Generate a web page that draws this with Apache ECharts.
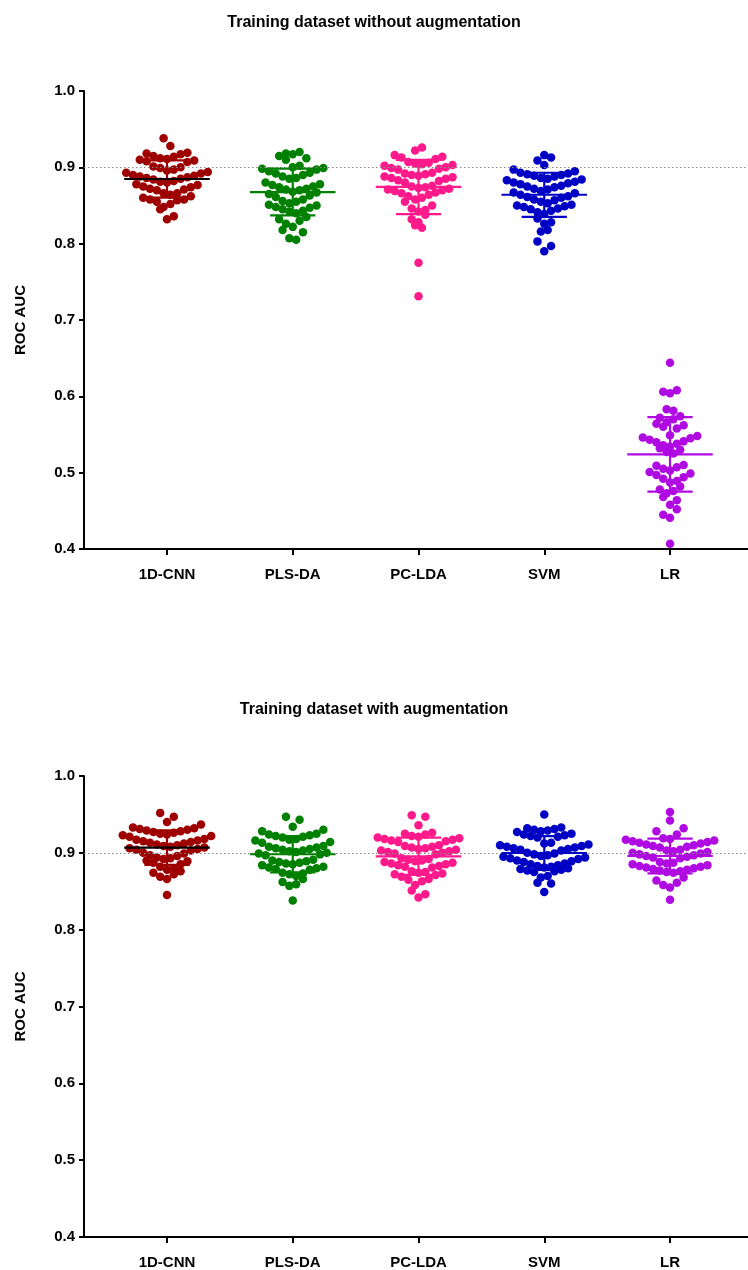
<!DOCTYPE html>
<html>
<head>
<meta charset="utf-8">
<script src="https://cdn.jsdelivr.net/npm/echarts@6/dist/echarts.min.js"></script>
<style>
  html, body { margin: 0; padding: 0; background: #fff; }
  #chart { width: 748px; height: 1270px; }
</style>
</head>
<body>
<div id="chart"></div>
<script>
// categories and colours
const categories = ['1D-CNN', 'PLS-DA', 'PC-LDA', 'SVM', 'LR'];
const groupColors = ['#9E0000', '#008000', '#FF1A8C', '#0000C4', '#B00AE2'];
const yTicks = [0.4, 0.5, 0.6, 0.7, 0.8, 0.9, 1.0];

// --- training dataset without augmentation (ROC AUC per run)
const cnnNoAug = [0.938, 0.928,
  0.919, 0.918, 0.917, 0.915, 0.914, 0.912, 0.911, 0.910, 0.909, 0.908, 0.907,
  0.901, 0.900, 0.899, 0.897, 0.896, 0.894, 0.893, 0.892, 0.890, 0.889, 0.888, 0.887,
  0.886, 0.885, 0.884, 0.882, 0.881, 0.880, 0.878, 0.877, 0.875, 0.874, 0.872, 0.871, 0.870,
  0.866, 0.866, 0.864, 0.862, 0.860, 0.858, 0.858, 0.857, 0.855, 0.852, 0.848, 0.845, 0.836, 0.832];
const plsNoAug = [0.920, 0.918, 0.917, 0.915, 0.912, 0.910,
  0.902, 0.900, 0.899, 0.898, 0.897, 0.895, 0.893, 0.892, 0.890, 0.888, 0.886, 0.885,
  0.880, 0.878, 0.877, 0.875, 0.874, 0.872, 0.871, 0.870, 0.868, 0.867, 0.865, 0.863, 0.861,
  0.858, 0.856, 0.855, 0.853, 0.851, 0.850, 0.848, 0.847, 0.845, 0.843, 0.842, 0.840,
  0.835, 0.832, 0.830, 0.826, 0.822, 0.818, 0.815, 0.807, 0.805];
const pcldaNoAug = [0.926, 0.922, 0.916, 0.914, 0.913, 0.911,
  0.907, 0.906, 0.905, 0.904, 0.903, 0.902, 0.900, 0.899, 0.898, 0.897,
  0.893, 0.892, 0.891, 0.890, 0.889, 0.888, 0.887, 0.886, 0.885, 0.883, 0.882, 0.880,
  0.876, 0.875, 0.874, 0.873, 0.872, 0.871, 0.870, 0.869, 0.867, 0.866, 0.864, 0.862, 0.860, 0.858,
  0.855, 0.850, 0.846, 0.844, 0.842, 0.838, 0.832, 0.828, 0.824, 0.821,
  0.775, 0.731];
const svmNoAug = [0.916, 0.913, 0.909, 0.903,
  0.897, 0.895, 0.893, 0.892, 0.891, 0.890, 0.889, 0.888, 0.886, 0.885, 0.884, 0.883,
  0.881, 0.880, 0.879, 0.878, 0.876, 0.875, 0.874, 0.872, 0.871, 0.869,
  0.867, 0.866, 0.864, 0.862, 0.861, 0.860, 0.858, 0.857, 0.855, 0.853,
  0.851, 0.850, 0.849, 0.848, 0.846, 0.845, 0.843, 0.841, 0.839,
  0.833, 0.828, 0.826, 0.818, 0.816, 0.803, 0.797, 0.790];
const lrNoAug = [0.644,
  0.608, 0.606, 0.604,
  0.583, 0.581,
  0.574, 0.572, 0.570, 0.566, 0.564, 0.562, 0.560, 0.558,
  0.549, 0.548, 0.546, 0.545, 0.543, 0.541, 0.540, 0.538, 0.536, 0.534, 0.532, 0.530, 0.527, 0.525,
  0.510, 0.509, 0.507, 0.505, 0.503, 0.501, 0.499, 0.497, 0.494, 0.492, 0.489, 0.487,
  0.482, 0.478, 0.476, 0.473, 0.468, 0.464, 0.458, 0.452, 0.445, 0.441, 0.407];

// --- training dataset with augmentation
const cnnAug = [0.952, 0.947, 0.940, 0.937,
  0.933, 0.932, 0.931, 0.930, 0.929, 0.928, 0.927, 0.926, 0.925, 0.924, 0.923, 0.922, 0.921,
  0.918, 0.917, 0.916, 0.915, 0.914, 0.913, 0.912, 0.911, 0.910, 0.909, 0.908, 0.907, 0.906, 0.905, 0.904, 0.903,
  0.900, 0.899, 0.897, 0.896, 0.894, 0.893, 0.892, 0.890, 0.889, 0.887, 0.885,
  0.882, 0.880, 0.878, 0.876, 0.874, 0.872, 0.869, 0.866, 0.845];
const plsAug = [0.947, 0.943, 0.934, 0.930, 0.928,
  0.925, 0.924, 0.923, 0.922, 0.921, 0.920, 0.918, 0.917, 0.916, 0.914, 0.913,
  0.909, 0.908, 0.907, 0.906, 0.905, 0.904, 0.903, 0.902, 0.901, 0.900, 0.899, 0.898, 0.897,
  0.891, 0.890, 0.889, 0.888, 0.887, 0.886, 0.885, 0.884, 0.882, 0.881, 0.880, 0.879, 0.878,
  0.874, 0.873, 0.872, 0.870, 0.866, 0.862, 0.859, 0.857, 0.838];
const pcldaAug = [0.949, 0.947, 0.936,
  0.926, 0.925, 0.924, 0.922, 0.921, 0.920, 0.919, 0.918, 0.917, 0.916, 0.915, 0.914,
  0.910, 0.909, 0.908, 0.907, 0.906, 0.905, 0.904, 0.903, 0.902, 0.901, 0.900, 0.899, 0.898,
  0.893, 0.892, 0.891, 0.890, 0.889, 0.888, 0.887, 0.886, 0.885, 0.884, 0.883, 0.882, 0.881,
  0.876, 0.875, 0.874, 0.873, 0.872, 0.871, 0.869, 0.866, 0.865, 0.863, 0.858, 0.851, 0.846, 0.842];
const svmAug = [0.950,
  0.933, 0.932, 0.931, 0.930, 0.929, 0.928, 0.927, 0.925, 0.924, 0.923, 0.922, 0.921, 0.920,
  0.913, 0.912, 0.911, 0.910, 0.909, 0.908, 0.907, 0.906, 0.905, 0.904, 0.903,
  0.900, 0.899, 0.898, 0.897, 0.896, 0.895, 0.894, 0.893, 0.892, 0.890, 0.889, 0.888,
  0.886, 0.885, 0.884, 0.883, 0.882, 0.881, 0.880, 0.879, 0.878, 0.877, 0.876, 0.875,
  0.870, 0.868, 0.861, 0.860, 0.849];
const lrAug = [0.953, 0.942, 0.932, 0.928, 0.924,
  0.919, 0.918, 0.917, 0.916, 0.915, 0.914, 0.913, 0.912, 0.911, 0.910, 0.909, 0.908, 0.907,
  0.904, 0.903, 0.902, 0.901, 0.900, 0.899, 0.898, 0.897, 0.896, 0.895, 0.894, 0.893,
  0.888, 0.887, 0.886, 0.885, 0.884, 0.883, 0.882, 0.881, 0.880, 0.879, 0.878, 0.877, 0.876, 0.875, 0.874,
  0.868, 0.864, 0.861, 0.858, 0.855, 0.839];

const panels = [
  { title: 'Training dataset without augmentation', groups: [cnnNoAug, plsNoAug, pcldaNoAug, svmNoAug, lrNoAug] },
  { title: 'Training dataset with augmentation', groups: [cnnAug, plsAug, pcldaAug, svmAug, lrAug] },
];
const refLine = 0.9;

const FONT = "'Liberation Sans', Arial, sans-serif";
const chart = echarts.init(document.getElementById('chart'));

function mean(a) { return a.reduce((s, v) => s + v, 0) / a.length; }
function sd(a) {
  const m = mean(a);
  return Math.sqrt(a.reduce((s, v) => s + (v - m) * (v - m), 0) / (a.length - 1));
}

const xMin = 0.34, xMax = 5.62;
const grids = [
  { left: 84, right: 0, top: 91, height: 458 },
  { left: 84, right: 0, top: 776, height: 461 },
];
const titleStyle = { fontFamily: FONT, fontSize: 16, fontWeight: 'bold', color: '#000' };
const labelStyle = { fontFamily: FONT, fontSize: 15, fontWeight: 'bold', color: '#000' };

const baseOption = {
  animation: false,
  backgroundColor: '#fff',
  title: [
    { text: panels[0].title, left: 'center', top: 10, textStyle: titleStyle },
    { text: panels[1].title, left: 'center', top: 697, textStyle: titleStyle },
  ],
  grid: grids,
  xAxis: [0, 1].map((g) => ({
    type: 'value', gridIndex: g, min: xMin, max: xMax,
    splitLine: { show: false },
    axisLine: { show: true, onZero: false, lineStyle: { color: '#000', width: 2 } },
    axisTick: { show: true, length: 6, lineStyle: { color: '#000', width: 2 }, customValues: [1, 2, 3, 4, 5] },
    axisLabel: Object.assign({
      customValues: [1, 2, 3, 4, 5], margin: 18,
      formatter: (v) => categories[Math.round(v) - 1] || '',
    }, labelStyle),
  })),
  yAxis: [0, 1].map((g) => ({
    type: 'value', gridIndex: g, min: 0.4, max: 1.0, interval: 0.1,
    name: 'ROC AUC', nameLocation: 'middle', nameRotate: 90, nameGap: 56,
    nameTextStyle: labelStyle,
    splitLine: { show: false },
    axisLine: { show: true, lineStyle: { color: '#000', width: 2 } },
    axisTick: { show: true, length: 5, lineStyle: { color: '#000', width: 2 } },
    axisLabel: Object.assign({ formatter: (v) => v.toFixed(1), margin: 9 }, labelStyle),
  })),
  series: [],
};
chart.setOption(baseOption);

// Prism-like column scatter: values binned into rows, smallest in the middle of a row
const ROW_H = 12;   // px
const STEP = 6.8;   // px between dots in a row
function swarm(values, g, cat) {
  const p0 = chart.convertToPixel({ gridIndex: g }, [cat, 0.9]);
  const p1 = chart.convertToPixel({ gridIndex: g }, [cat + 1, 0.9]);
  const xUnit = p1[0] - p0[0];
  const sorted = values.slice().sort((a, b) => a - b);
  const base = chart.convertToPixel({ gridIndex: g }, [cat, sorted[0]])[1];
  const bins = {};
  sorted.forEach((v) => {
    const y = chart.convertToPixel({ gridIndex: g }, [cat, v])[1];
    const b = Math.floor((base - y) / ROW_H + 1e-9);
    (bins[b] = bins[b] || []).push(v);
  });
  const out = [];
  Object.keys(bins).forEach((b, bi) => {
    const row = bins[b];
    const n = row.length;
    const flip = bi % 2 ? -1 : 1;
    row.forEach((v, j) => {
      let slot;
      if (n % 2) slot = j === 0 ? 0 : (j % 2 ? 1 : -1) * Math.ceil(j / 2);
      else slot = (j % 2 ? -1 : 1) * (Math.floor(j / 2) + 0.5);
      out.push([cat + (flip * slot * STEP) / xUnit, v]);
    });
  });
  return out;
}

const series = [];
panels.forEach((panel, g) => {
  panel.groups.forEach((vals, i) => {
    const s = {
      type: 'scatter', xAxisIndex: g, yAxisIndex: g,
      symbol: 'circle', symbolSize: 8.5,
      itemStyle: { color: groupColors[i], opacity: 1 },
      data: swarm(vals, g, i + 1), z: 3,
    };
    if (i === 0) {
      s.markLine = {
        silent: true, symbol: 'none', label: { show: false },
        lineStyle: { type: [1.5, 2.5], color: '#888', width: 1 },
        data: [{ yAxis: refLine }],
      };
    }
    series.push(s);
  });
  // mean line with SD error bar
  series.push({
    type: 'custom', xAxisIndex: g, yAxisIndex: g, z: 5,
    data: panel.groups.map((vals, i) => [i + 1, mean(vals), sd(vals), i]),
    renderItem: (params, api) => {
      const x = api.value(0), m = api.value(1), s = api.value(2), ci = api.value(3);
      const c = api.coord([x, m]);
      const hi = api.coord([x, m + s]);
      const lo = api.coord([x, m - s]);
      const halfMean = api.size([0.34, 0])[0];
      const halfCap = api.size([0.18, 0])[0];
      const col = groupColors[ci];
      const meanCol = ci === 0 ? '#000' : col;
      const st = (color) => ({ stroke: color, lineWidth: 2.2 });
      return {
        type: 'group',
        children: [
          { type: 'line', shape: { x1: c[0], y1: hi[1], x2: c[0], y2: lo[1] }, style: st(col) },
          { type: 'line', shape: { x1: c[0] - halfCap, y1: hi[1], x2: c[0] + halfCap, y2: hi[1] }, style: st(col) },
          { type: 'line', shape: { x1: c[0] - halfCap, y1: lo[1], x2: c[0] + halfCap, y2: lo[1] }, style: st(col) },
          { type: 'line', shape: { x1: c[0] - halfMean, y1: c[1], x2: c[0] + halfMean, y2: c[1] }, style: st(meanCol) },
        ],
      };
    },
  });
});

chart.setOption({ series });
</script>
</body>
</html>
